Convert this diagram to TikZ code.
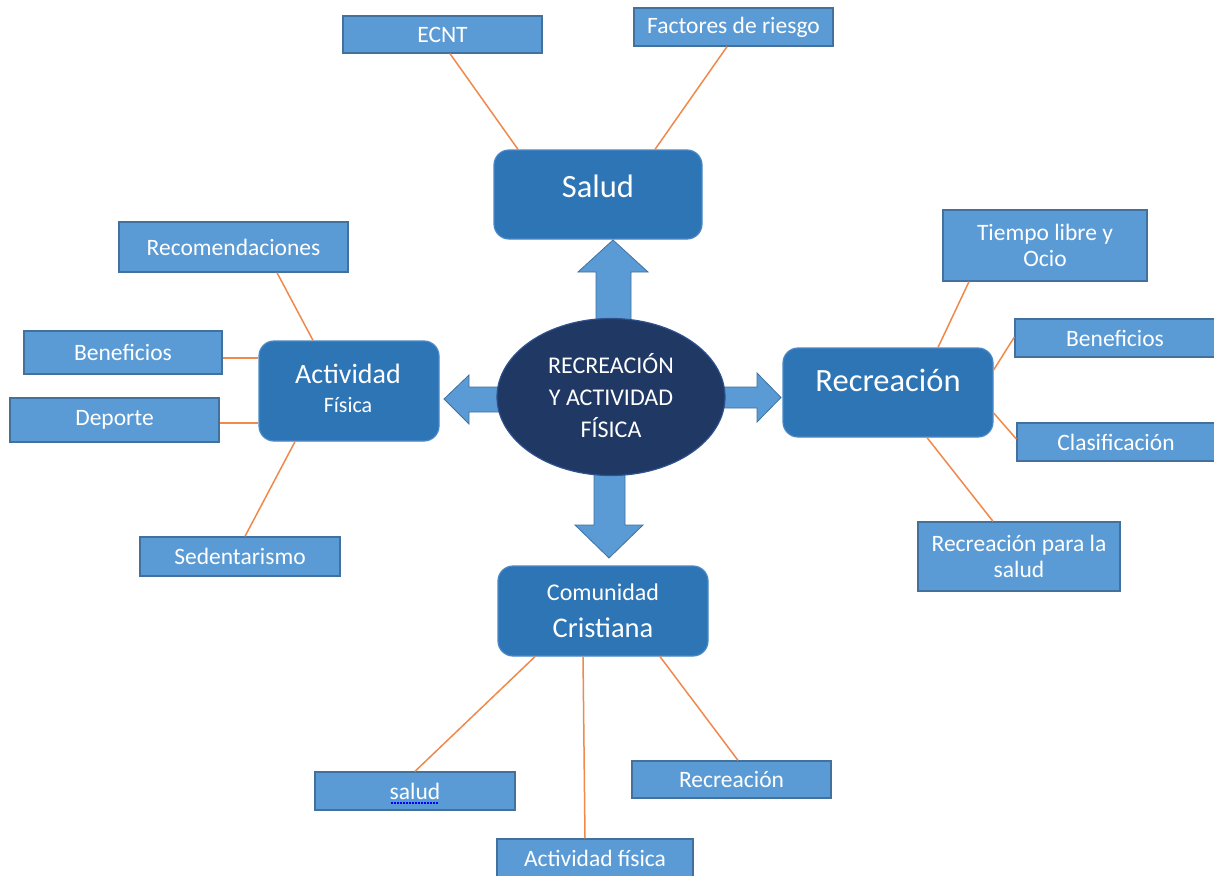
\documentclass[tikz,border=0pt]{standalone}
\usepackage{fontspec}
\setmainfont{Carlito}
\usetikzlibrary{shapes.geometric,calc}
\definecolor{boxlight}{HTML}{5B9BD5}
\definecolor{boxedge}{HTML}{41719C}
\definecolor{mainbox}{HTML}{2E75B6}
\definecolor{mainedge}{HTML}{4A89C8}
\definecolor{navy}{HTML}{203864}
\definecolor{navyedge}{HTML}{2F528F}
\definecolor{conncol}{HTML}{F0894A}
\tikzset{
  smallbox/.style={draw=boxedge, line width=1.3pt, fill=boxlight, text=white, inner sep=0pt, font=\fontsize{23.5}{26}\selectfont, align=center},
  mainrect/.style={draw=mainedge, line width=1.2pt, fill=mainbox, rounded corners=15pt, inner sep=0pt},
  maintext/.style={text=white, inner sep=0pt, anchor=base},
  conn/.style={draw=conncol, line width=1.5pt},
  bigarrow/.style={fill=boxlight, draw=boxedge, line width=0.8pt, line join=miter}
}
\begin{document}
\begin{tikzpicture}[x=1pt,y=-1pt]
\useasboundingbox (0,0) rectangle (1214,875);
\fill[white] (0,0) rectangle (1214,875);

% arrows (behind the ellipse)
\path[bigarrow] (596,335) -- (596,272) -- (578,272) -- (613,240) -- (648,272) -- (631,272) -- (631,335) -- cycle;
\path[bigarrow] (515,387) -- (469,387) -- (469,375) -- (444,399) -- (469,424) -- (469,412) -- (515,412) -- cycle;
\path[bigarrow] (710,387) -- (757,387) -- (757,373) -- (781,397.5) -- (757,422) -- (757,408) -- (710,408) -- cycle;
\path[bigarrow] (594,460) -- (594,525) -- (575,525) -- (609,558) -- (643,525) -- (625,525) -- (625,460) -- cycle;

% central ellipse
\node[ellipse, draw=navyedge, line width=1.2pt, fill=navy, minimum width=228pt, minimum height=157pt, inner sep=0pt] (center) at (611,397) {};
\node[text=white, align=center, font=\fontsize{24}{32}\selectfont] (centertext) at (611,396) {RECREACIÓN\\Y ACTIVIDAD\\FÍSICA};

% main boxes
\node[mainrect, minimum width=208pt, minimum height=89pt] (salud) at (598,194.5) {};
\node[maintext, font=\fontsize{32.5}{34}\selectfont] (saludt) at (598,197) {Salud};

\node[mainrect, minimum width=180pt, minimum height=100pt] (actividad) at (349,391) {};
\node[maintext, font=\fontsize{28}{30}\selectfont] (actividadt) at (348,383) {Actividad};
\node[maintext, font=\fontsize{22}{24}\selectfont] (fisicat) at (348,412) {Física};

\node[mainrect, minimum width=210pt, minimum height=89pt] (recreacion) at (888,392.5) {};
\node[maintext, font=\fontsize{32.5}{34}\selectfont] (recreaciont) at (888,391) {Recreación};

\node[mainrect, minimum width=210pt, minimum height=90pt] (comunidad) at (603,611) {};
\node[maintext, font=\fontsize{24}{26}\selectfont] (comunidadt) at (603,600) {Comunidad};
\node[maintext, font=\fontsize{28.5}{30}\selectfont] (cristianat) at (603,637) {Cristiana};

% small boxes
\node[smallbox, minimum width=199pt, minimum height=37pt] (ecnt) at (442.5,34.5) {ECNT};
\node[smallbox, minimum width=199pt, minimum height=38pt] (factores) at (733.5,27) {Factores de riesgo};

\node[smallbox, minimum width=229pt, minimum height=50pt] (recom) at (233.5,247) {Recomendaciones};
\node[smallbox, minimum width=198pt, minimum height=43pt] (benefl) at (123,352.5) {Beneficios};
\node[smallbox, minimum width=209pt, minimum height=44pt] (deporte) at (114.5,420) {Deporte};
\node[smallbox, minimum width=200pt, minimum height=39pt] (sedent) at (240,556.5) {Sedentarismo};

\node[smallbox, minimum width=204pt, minimum height=71pt] (tiempo) at (1045,245.5) {Tiempo libre y\\Ocio};
\node[smallbox, minimum width=200pt, minimum height=38pt] (benefr) at (1115,338) {Beneficios};
\node[smallbox, minimum width=198pt, minimum height=38pt] (clasif) at (1116,442) {Clasificación};
\node[smallbox, minimum width=202pt, minimum height=69pt] (recsalud) at (1019,556.5) {Recreación para la\\salud};

\node[smallbox, minimum width=200pt, minimum height=38pt] (saludb) at (415,791) {salud};
\node[smallbox, minimum width=196pt, minimum height=38pt] (actfis) at (595,858) {Actividad física};
\node[smallbox, minimum width=199pt, minimum height=37pt] (recb) at (731.5,779.5) {Recreación};
\draw[blue, line width=1.2pt, dash pattern=on 1.5pt off 1.5pt] ([xshift=-24pt,yshift=-12pt]saludb.center) -- ([xshift=24pt,yshift=-12pt]saludb.center);

% connectors
\draw[conn] ([xshift=7.5pt]ecnt.south) -- ([xshift=-80pt]salud.north);
\draw[conn] ([xshift=-6.5pt]factores.south) -- ([xshift=57pt]salud.north);

\draw[conn] ([xshift=43.5pt]recom.south) -- ([xshift=-36pt]actividad.north);
\draw[conn] ([yshift=-5.5pt]benefl.east) -- ([yshift=33pt]actividad.west);
\draw[conn] ([yshift=-3pt]deporte.east) -- ([yshift=-32pt]actividad.west);
\draw[conn] ([xshift=5pt]sedent.north) -- ([xshift=-54pt]actividad.south);

\draw[conn] ([xshift=-76pt]tiempo.south) -- ([xshift=50pt]recreacion.north);
\draw[conn] ([yshift=1pt]benefr.west) -- ([yshift=22.5pt]recreacion.east);
\draw[conn] ([yshift=3pt]clasif.west) -- ([yshift=-20.5pt]recreacion.east);
\draw[conn] ([xshift=-26pt]recsalud.north) -- ([xshift=39pt]recreacion.south);

\draw[conn] (saludb.north) -- ([xshift=-68pt]comunidad.south);
\draw[conn] ([xshift=-10pt]actfis.north) -- ([xshift=-20pt]comunidad.south);
\draw[conn] ([xshift=6.5pt]recb.north) -- ([xshift=57pt]comunidad.south);
\end{tikzpicture}
\end{document}
